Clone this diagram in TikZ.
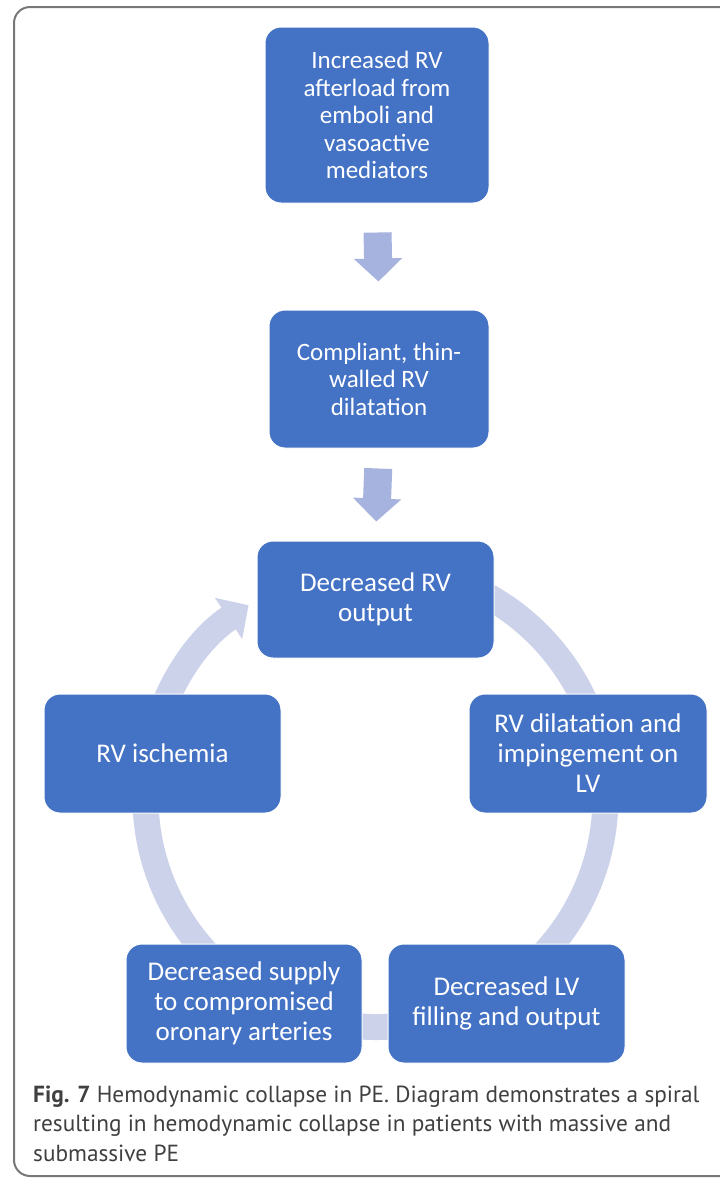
\documentclass[tikz,border=0pt]{standalone}
\usepackage{fontspec}
\newfontfamily\boxfont{Carlito}
\newfontfamily\capfont{PT Sans}
\usetikzlibrary{arrows.meta}
\definecolor{boxblue}{RGB}{68,114,196}
\definecolor{ringblue}{RGB}{204,210,234}
\definecolor{downblue}{RGB}{166,179,222}
\definecolor{framegray}{RGB}{120,120,120}
\definecolor{capgray}{RGB}{64,64,64}
\tikzset{
  stepbox/.style={fill=boxblue, draw=white, line width=1pt, rounded corners=16pt,
    text=white, align=center, inner sep=0pt},
  topfont/.style={font=\boxfont\fontsize{25}{27.5}\selectfont},
  lowfont/.style={font=\boxfont\fontsize{27}{30}\selectfont},
  downarrow/.style={draw=downblue, line width=28pt, -{Triangle[width=47pt,length=23pt]}},
  ringarrow/.style={draw=ringblue, line width=26pt, -{Triangle[width=48pt,length=24pt]}},
  captext/.style={anchor=base west, inner sep=0pt, text=capgray,
    font=\capfont\fontsize{23.3}{29}\selectfont}
}
\begin{document}
\begin{tikzpicture}[x=1pt,y=1pt]
\useasboundingbox (0,0) rectangle (720,-1179);
\fill[white] (0,0) rectangle (720,-1179);
\begin{scope}
  \clip (0,0) rectangle (720,-1179);
  \draw[framegray, line width=2pt, rounded corners=16pt] (14,-7) rectangle (760,-1176);
\end{scope}
% cycle ring
\coordinate (cyc) at (375.5,-797);
\draw[ringarrow] ([shift={(85:230)}]cyc) arc[start angle=85, end angle=-236.5, radius=230];
% boxes
\node[stepbox, topfont, minimum width=224pt, minimum height=176pt] (inc) at (377,-115)
  {Increased RV\\afterload from\\emboli and\\vasoactive\\mediators};
\node[stepbox, topfont, minimum width=220pt, minimum height=138pt] (comp) at (379,-379)
  {Compliant, thin-\\walled RV\\dilatation};
\node[stepbox, lowfont, minimum width=237pt, minimum height=117pt] (drv) at (375.5,-599.5)
  {Decreased RV\\output};
\node[stepbox, lowfont, minimum width=238pt, minimum height=119pt] (dil) at (588,-753.5)
  {RV dilatation and\\impingement on\\LV};
\node[stepbox, lowfont, minimum width=237pt, minimum height=119pt] (dlv) at (506.5,-1003.5)
  {Decreased LV\\filling and output};
\node[stepbox, lowfont, minimum width=236pt, minimum height=119pt] (sup) at (244,-1003.5)
  {Decreased supply\\to compromised\\oronary arteries};
\node[stepbox, lowfont, minimum width=237pt, minimum height=119pt] (isc) at (162.5,-753.5)
  {RV ischemia};
% down arrows
\draw[downarrow, shorten <=29pt, shorten >=28pt] (inc.south) -- (comp.north);
\draw[downarrow, shorten <=20pt, shorten >=19pt] (comp.south) -- (drv.north);
% caption
\node[captext] (cap1) at (33,-1102) {\textbf{Fig. 7} Hemodynamic collapse in PE. Diagram demonstrates a spiral};
\node[captext] (cap2) at (33,-1131) {resulting in hemodynamic collapse in patients with massive and};
\node[captext] (cap3) at (33,-1161) {submassive PE};
\end{tikzpicture}
\end{document}
